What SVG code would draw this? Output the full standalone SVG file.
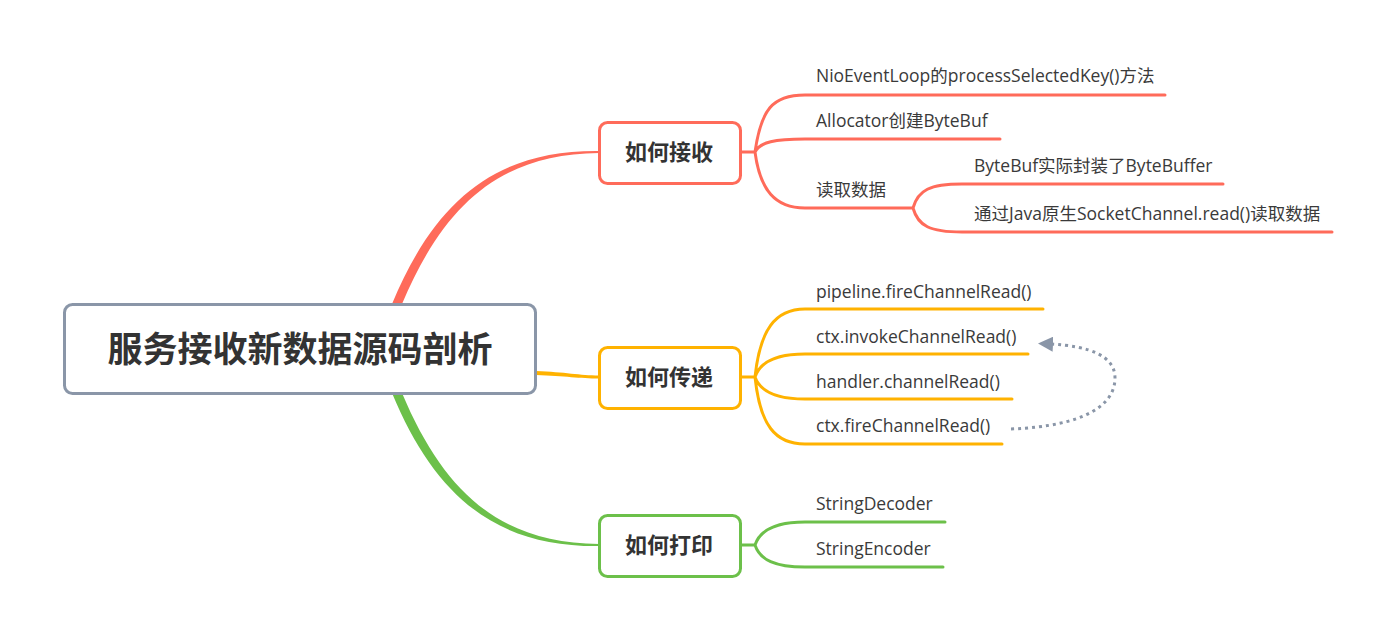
<svg xmlns="http://www.w3.org/2000/svg" width="1395" height="638" viewBox="0 0 1395 638">
<defs>
<style>
.box{fill:#fff;stroke-width:3}
.t{font-family:"Open Sans","Noto Sans","Noto Sans CJK SC",sans-serif;font-size:17.5px;fill:#3a3a3a}
.n{font-family:"Noto Sans CJK SC","Noto Sans",sans-serif;font-size:22px;font-weight:bold;fill:#333;text-anchor:middle}
.r{stroke:#FF6B5A}
.o{stroke:#FFB200}
.g{stroke:#6CC04A}
.l{fill:none;stroke-width:3;stroke-linecap:round}
</style>
<marker id="ah" viewBox="0 0 10 10" refX="2" refY="5" markerWidth="5" markerHeight="5" orient="auto">
<path d="M0,5 L10,0 L10,10 Z" fill="#8A96A8" transform="rotate(180 5 5)"/>
</marker>
</defs>
<rect width="1395" height="638" fill="#fff"/>
<g id="connectors">
<path d="M392,304 C436,198 498,150 599,151 L599,153 C502,154 445,202 402,304 Z" fill="#FF6B5A"/>
<path d="M392,393 C436,499 498,547 599,546 L599,544 C502,543 445,495 402,393 Z" fill="#6CC04A"/>
<path d="M536,371 C565,372 580,375.5 599,375.5 L599,378.5 C580,378.5 565,376 536,375 Z" fill="#FFB200"/>
<path class="l r" d="M740,152 L755,152 M755,152 C761,110 772,95 805,95 L1165,95 M755,152 C760,142 775,139 805,139 L1000,139 M755,152 C760,190 775,208 805,208 L913,208 M913,208 C918,190 930,184 962,184 L1223,184 M913,208 C918,226 930,232 962,232 L1332,232"/>
<path class="l o" d="M740,377 L755,377 M755,377 C760,330 775,309 805,309 L1043,309 M755,377 C760,362 775,354 805,354 L1028,354 M755,377 C760,391 775,399 805,399 L1012,399 M755,377 C760,425 775,444 805,444 L1002,444"/>
<path class="l g" d="M740,545 L755,545 M755,545 C760,530 775,522 805,522 L945,522 M755,545 C760,560 775,567 805,567 L943,567"/>
<path d="M1011,429 C1085,426 1115,405 1115,378 C1115,356 1090,346 1050,344" fill="none" stroke="#8A96A8" stroke-width="3" stroke-dasharray="3 4" marker-end="url(#ah)"/>
</g>
<g id="root">
<rect class="box" x="64.5" y="304.5" width="471" height="89" rx="8" stroke="#8A96A8"/>
<text class="n" x="300" y="362" style="font-size:35px">服务接收新数据源码剖析</text>
</g>
<g id="n1">
<rect class="box r" x="599.5" y="122.5" width="141" height="61" rx="8"/>
<text class="n" x="669" y="160">如何接收</text>
</g>
<g id="n2">
<rect class="box o" x="599.5" y="347.5" width="141" height="61" rx="8"/>
<text class="n" x="669" y="385">如何传递</text>
</g>
<g id="n3">
<rect class="box g" x="599.5" y="515.5" width="141" height="61" rx="8"/>
<text class="n" x="669" y="553">如何打印</text>
</g>
<g id="c1"><text class="t" x="816" y="82">NioEventLoop的processSelectedKey()方法</text></g>
<g id="c2"><text class="t" x="816" y="127">Allocator创建ByteBuf</text></g>
<g id="c3"><text class="t" x="816" y="196">读取数据</text></g>
<g id="c31"><text class="t" x="974" y="172">ByteBuf实际封装了ByteBuffer</text></g>
<g id="c32"><text class="t" x="974" y="220">通过Java原生SocketChannel.read()读取数据</text></g>
<g id="d1"><text class="t" x="816" y="298">pipeline.fireChannelRead()</text></g>
<g id="d2"><text class="t" x="816" y="343">ctx.invokeChannelRead()</text></g>
<g id="d3"><text class="t" x="816" y="388">handler.channelRead()</text></g>
<g id="d4"><text class="t" x="816" y="432">ctx.fireChannelRead()</text></g>
<g id="p1"><text class="t" x="816" y="510">StringDecoder</text></g>
<g id="p2"><text class="t" x="816" y="555">StringEncoder</text></g>
</svg>
